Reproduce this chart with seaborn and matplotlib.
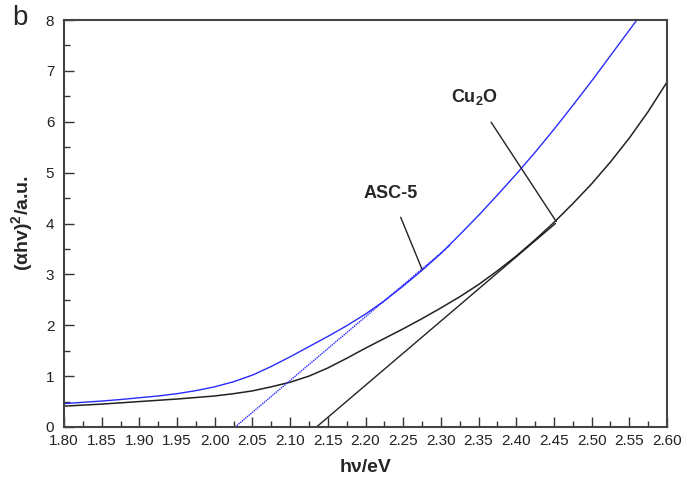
import numpy as np
import pandas as pd
import matplotlib
matplotlib.use("Agg")
import matplotlib.pyplot as plt
import seaborn as sns

# ---- data ----
asc_x = [1.80, 1.825, 1.85, 1.875, 1.90, 1.925, 1.95, 1.975, 2.00, 2.025, 2.05, 2.075,
         2.10, 2.125, 2.15, 2.175, 2.20, 2.225, 2.25, 2.275, 2.30, 2.325, 2.35, 2.375,
         2.40, 2.425, 2.45, 2.475, 2.50, 2.525, 2.55, 2.56]
asc_y = [0.46, 0.485, 0.51, 0.54, 0.575, 0.61, 0.655, 0.715, 0.79, 0.89, 1.02, 1.19,
         1.38, 1.58, 1.78, 1.99, 2.22, 2.48, 2.77, 3.08, 3.41, 3.78, 4.16, 4.56,
         4.97, 5.40, 5.85, 6.32, 6.80, 7.30, 7.80, 8.00]

cu_x = [1.80, 1.825, 1.85, 1.875, 1.90, 1.925, 1.95, 1.975, 2.00, 2.025, 2.05, 2.075,
        2.10, 2.125, 2.15, 2.175, 2.20, 2.225, 2.25, 2.275, 2.30, 2.325, 2.35, 2.375,
        2.40, 2.425, 2.45, 2.475, 2.50, 2.525, 2.55, 2.575, 2.60]
cu_y = [0.41, 0.43, 0.45, 0.475, 0.50, 0.525, 0.55, 0.58, 0.61, 0.655, 0.71, 0.79,
        0.88, 1.00, 1.16, 1.35, 1.55, 1.74, 1.93, 2.13, 2.34, 2.56, 2.80, 3.07,
        3.36, 3.68, 4.02, 4.39, 4.78, 5.21, 5.68, 6.20, 6.78]

asc_tan_x = [2.027, 2.312]
asc_tan_y = [0.0, 3.57]
cu_tan_x = [2.135, 2.452]
cu_tan_y = [0.0, 4.00]

x_ticks = [1.80, 1.85, 1.90, 1.95, 2.00, 2.05, 2.10, 2.15, 2.20, 2.25,
           2.30, 2.35, 2.40, 2.45, 2.50, 2.55, 2.60]
y_ticks = [0, 1, 2, 3, 4, 5, 6, 7, 8]

sns.set_style("ticks")
plt.rcParams['font.family'] = ['Liberation Sans', 'DejaVu Sans']
plt.rcParams['mathtext.fontset'] = 'custom'
plt.rcParams['mathtext.rm'] = 'Liberation Sans'
plt.rcParams['mathtext.bf'] = 'Liberation Sans:bold'

fig = plt.figure(figsize=(6.81, 4.78), dpi=100)
ax = fig.add_axes([64/681, 51/478, 603/681, 407/478])

blue = "#2a2aff"
dark = "#222222"

df_asc = pd.DataFrame({"x": asc_x, "y": asc_y})
df_cu = pd.DataFrame({"x": cu_x, "y": cu_y})
df_at = pd.DataFrame({"x": asc_tan_x, "y": asc_tan_y})
df_ct = pd.DataFrame({"x": cu_tan_x, "y": cu_tan_y})

sns.lineplot(data=df_asc, x="x", y="y", ax=ax, color=blue, lw=1.0, sort=False)
sns.lineplot(data=df_cu, x="x", y="y", ax=ax, color=dark, lw=1.1, sort=False)
sns.lineplot(data=df_at, x="x", y="y", ax=ax, color=blue, lw=1.0, ls=(0, (1, 0.6)), sort=False)
sns.lineplot(data=df_ct, x="x", y="y", ax=ax, color=dark, lw=1.0, sort=False)

ax.set_xlim(1.80, 2.60)
ax.set_ylim(0, 8)
ax.set_xticks(x_ticks)
ax.set_xticklabels([f"{v:.2f}" for v in x_ticks])
ax.set_yticks(y_ticks)
ax.set_xticks(np.arange(1.825, 2.60, 0.05), minor=True)
ax.set_yticks(np.arange(0.5, 8, 1.0), minor=True)
ax.tick_params(which='major', direction='in', length=7, width=1.0, labelsize=11,
               colors='#333333', labelcolor='#222222', pad=5)
ax.tick_params(which='minor', direction='in', length=4, width=1.0, colors='#333333')
ax.tick_params(axis='y', which='major', pad=7)
ax.tick_params(top=False, right=False)
for s in ax.spines.values():
    s.set_visible(True)
    s.set_linewidth(1.5)
    s.set_color('#444444')

ax.set_xlabel("hν/eV", fontsize=14, fontweight='bold', labelpad=8)
ax.set_ylabel(r"(αhv)$^{\mathbf{2}}$/a.u.", fontsize=14, fontweight='bold', labelpad=7)

# annotations
ax.annotate("ASC-5", xy=(2.275, 3.10), xytext=(2.234, 4.58), ha='center', va='center',
            fontsize=13, fontweight='bold',
            arrowprops=dict(arrowstyle='-', color=dark, lw=1.0, shrinkA=9, shrinkB=0))
ax.annotate(r"Cu$_{\mathbf{2}}$O", xy=(2.453, 4.04), xytext=(2.345, 6.48), ha='center', va='center',
            fontsize=13, fontweight='bold',
            arrowprops=dict(arrowstyle='-', color=dark, lw=1.0, shrinkA=10, shrinkB=0))

fig.text(12/681, 1 - 18/478, "b", fontsize=20, ha='left', va='center')

fig.savefig("out.png", dpi=100)
